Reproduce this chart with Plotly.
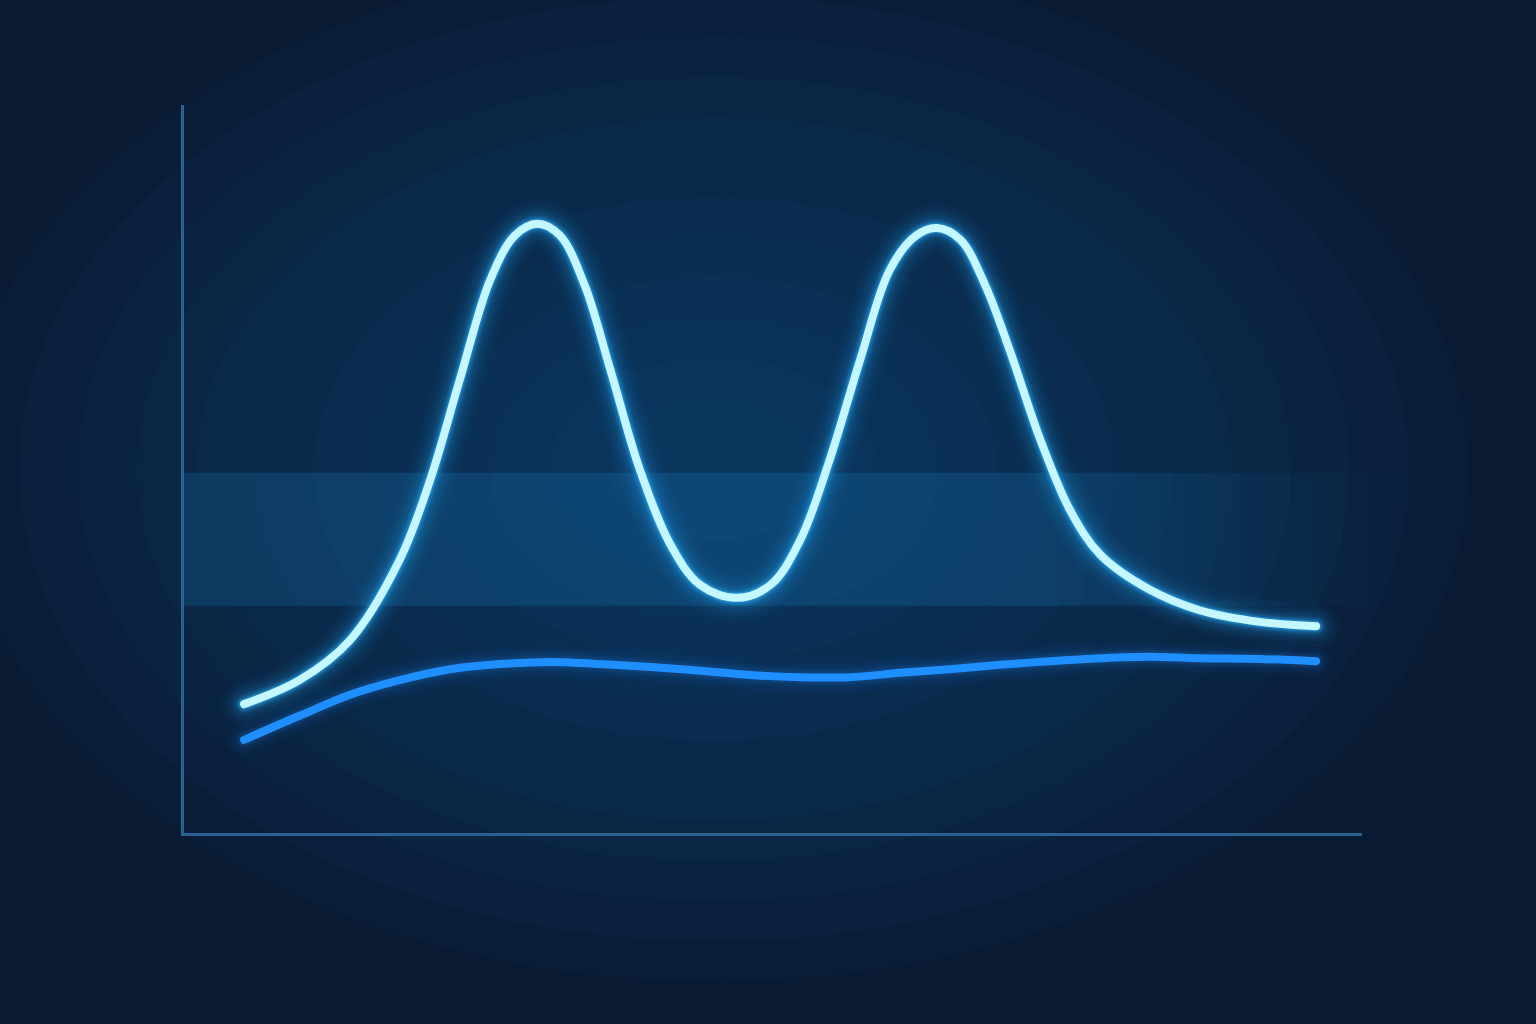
import plotly.graph_objects as go

# bright two-peak series
peak_x = [5.1, 9.8, 14.1, 18.3, 20.9, 23.4, 26.0, 28.1, 30.0, 31.9, 34.0, 36.2,
          38.7, 41.3, 43.8, 46.9, 49.8, 52.3, 54.8, 57.4, 59.9, 62.1, 63.9, 65.9,
          68.0, 70.1, 72.7, 75.2, 77.8, 82.0, 86.2, 91.3, 96.1]
peak_y = [17.7, 21.0, 26.5, 37.5, 48.5, 62.2, 76.0, 82.1, 83.7, 82.1, 75.3, 63.6,
          49.9, 39.6, 34.1, 32.3, 34.1, 40.2, 51.2, 65.0, 77.3, 82.0, 83.1, 81.5,
          75.3, 66.3, 54.0, 44.4, 38.2, 33.4, 30.6, 29.0, 28.4]

# flat blue series
base_x = [5.1, 9.8, 14.1, 18.3, 22.6, 26.8, 31.1, 35.3, 39.6, 43.8, 48.0, 52.3,
          56.5, 60.8, 65.0, 69.3, 73.5, 77.8, 82.0, 86.2, 91.3, 96.1]
base_y = [12.8, 16.1, 19.0, 21.0, 22.5, 23.2, 23.5, 23.2, 22.8, 22.3, 21.7, 21.4,
          21.4, 22.0, 22.5, 23.1, 23.6, 24.0, 24.2, 24.0, 23.9, 23.6]

# highlighted band (y range)
band_lo, band_hi = 31.2, 49.5

BG = "#0a1a33"
CYAN = "#c4f7ff"
CYAN_GLOW = "rgba(40,175,255,{a})"
BLUE = "#1f8fff"
BLUE_GLOW = "rgba(30,143,255,{a})"

fig = go.Figure()

# glow layers then core lines
for w, a in [(34, 0.025), (28, 0.03), (22, 0.04), (17, 0.06), (13, 0.09)]:
    fig.add_trace(go.Scatter(x=base_x, y=base_y, mode="lines", hoverinfo="skip",
                             line=dict(color=BLUE_GLOW.format(a=a), width=w, shape="spline")))
fig.add_trace(go.Scatter(x=base_x, y=base_y, mode="lines",
                         line=dict(color=BLUE, width=8, shape="spline")))

for w, a in [(48, 0.03), (40, 0.04), (32, 0.055), (25, 0.075), (19, 0.11), (15, 0.2), (11, 0.38)]:
    fig.add_trace(go.Scatter(x=peak_x, y=peak_y, mode="lines", hoverinfo="skip",
                             line=dict(color=CYAN_GLOW.format(a=a), width=w, shape="spline")))
fig.add_trace(go.Scatter(x=peak_x, y=peak_y, mode="lines",
                         line=dict(color=CYAN, width=8, shape="spline")))

shapes = []
# soft radial background glow
for i in range(12):
    r = 0.64 - i * 0.05
    shapes.append(dict(type="circle", xref="paper", yref="paper", layer="below",
                       x0=0.45 - r, x1=0.45 + r, y0=0.5 - r * 1.1, y1=0.5 + r * 1.1,
                       fillcolor="rgba(10,92,150,0.055)", line=dict(width=0)))
# band, fading to the right
n = 14
for i in range(n):
    x0 = 0.72 + i * 0.022
    shapes.append(dict(type="rect", xref="paper", yref="y", layer="below",
                       x0=0.0 if i == 0 else x0, x1=x0 + 0.022,
                       y0=band_lo, y1=band_hi,
                       fillcolor=f"rgba(25,140,210,{0.2 * (1 - i / n):.3f})",
                       line=dict(width=0)))
fig.update_layout(shapes=shapes)

fig.update_layout(
    width=1536, height=1024,
    paper_bgcolor=BG, plot_bgcolor="rgba(0,0,0,0)",
    margin=dict(l=184, r=174, t=105, b=191),
    showlegend=False,
    xaxis=dict(range=[0, 100], showgrid=False, zeroline=False, showticklabels=False,
               showline=True, linecolor="#2b6190", linewidth=3, fixedrange=True),
    yaxis=dict(range=[0, 100], showgrid=False, zeroline=False, showticklabels=False,
               showline=True, linecolor="#2b6190", linewidth=3, fixedrange=True),
)

# remove page margin, round line caps
js = ("document.body.style.margin='0';document.body.style.background='%s';"
      "document.querySelectorAll('.scatterlayer path.js-line')"
      ".forEach(function(p){p.style.strokeLinecap='round';});" % BG)
fig.write_html("out.html", config={"displayModeBar": False}, post_script=js)
